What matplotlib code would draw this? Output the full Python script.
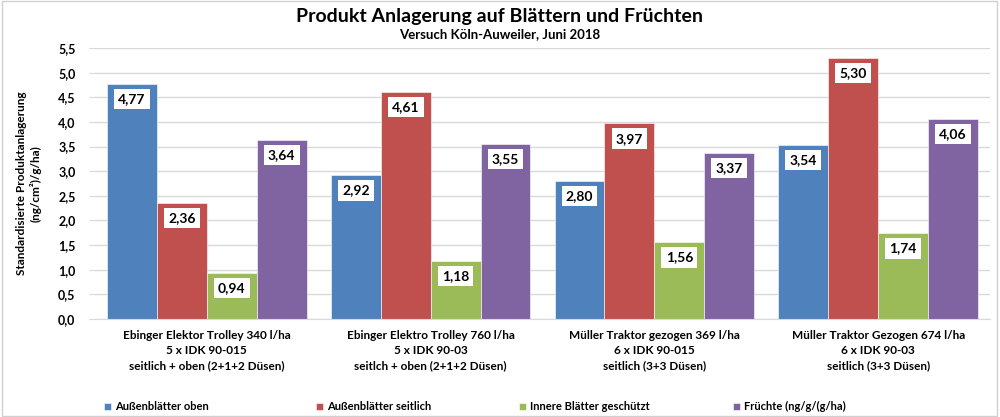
import numpy as np
import matplotlib.pyplot as plt
from matplotlib.patches import Rectangle

plt.rcParams['font.family'] = ['Lato', 'DejaVu Sans']
plt.rcParams['font.weight'] = 'bold'

groups = [
    "Ebinger Elektor Trolley 340 l/ha\n5 x IDK 90-015\nseitlich + oben (2+1+2 Düsen)",
    "Ebinger Elektro Trolley 760 l/ha\n5 x IDK 90-03\nseitlch + oben (2+1+2 Düsen)",
    "Müller Traktor gezogen 369 l/ha\n6 x IDK 90-015\nseitlich (3+3 Düsen)",
    "Müller Traktor Gezogen 674 l/ha\n6 x IDK 90-03\nseitlich (3+3 Düsen)",
]
series_names = ["Außenblätter oben", "Außenblätter seitlich",
                "Innere Blätter geschützt", "Früchte (ng/g/(g/ha)"]
aussen_oben = [4.77, 2.92, 2.80, 3.54]
aussen_seitlich = [2.36, 4.61, 3.97, 5.30]
innere = [0.94, 1.18, 1.56, 1.74]
fruechte = [3.64, 3.55, 3.37, 4.06]
colors = ["#4F81BD", "#C0504D", "#9BBB59", "#8064A2"]

yticks = np.arange(0, 5.51, 0.5)

fig = plt.figure(figsize=(10, 4.17), dpi=100)
fig.patches.append(Rectangle((0.002, 0.003), 0.995, 0.994, transform=fig.transFigure,
                             fill=False, edgecolor="#D0D0D0", linewidth=1))
ax = fig.add_axes([0.095, 0.235, 0.895, 0.65])

x = np.arange(len(groups))
w = 0.223
all_series = [aussen_oben, aussen_seitlich, innere, fruechte]
handles = []
for i, (vals, col, name) in enumerate(zip(all_series, colors, series_names)):
    pos = x + (i - 1.5) * w
    b = ax.bar(pos, vals, w, color=col, edgecolor="white", linewidth=0.4, label=name, zorder=2)
    handles.append(b)
    for px, v in zip(pos, vals):
        ax.annotate(f"{v:.2f}".replace(".", ","), (px, v), xytext=(0, -11),
                    textcoords="offset points", ha="center", va="center",
                    fontsize=10, fontweight="bold", zorder=3,
                    bbox=dict(boxstyle="square,pad=0.3", fc="white", ec="none"))

ax.set_xlim(-0.5, len(groups) - 0.5)
ax.set_ylim(0, 5.5)
ax.set_yticks(yticks)
ax.set_yticklabels([f"{t:.1f}".replace(".", ",") for t in yticks], fontsize=9, fontweight="bold")
ax.set_xticks(x)
ax.set_xticklabels(groups, fontsize=8.5, fontweight="bold", linespacing=1.45)
ax.tick_params(axis="x", length=0, pad=8)
ax.tick_params(axis="y", length=4, color="#D9D9D9", pad=10)
ax.yaxis.grid(True, color="#D9D9D9", linewidth=1, zorder=0)
ax.set_axisbelow(True)
for s in ["top", "right", "left"]:
    ax.spines[s].set_visible(False)
ax.spines["bottom"].set_color("#D9D9D9")

ax.set_ylabel("Standardisierte Produktanlagerung\n(ng/cm²)/g/ha)", fontsize=8.5,
              fontweight="bold", labelpad=12)

fig.text(0.5, 0.96, "Produkt Anlagerung auf Blättern und Früchten", ha="center",
         va="center", fontsize=14, fontweight="bold")
fig.text(0.5, 0.918, "Versuch Köln-Auweiler, Juni 2018", ha="center", va="center",
         fontsize=9.5, fontweight="bold")

# legend entries spaced evenly like the original
leg_x = [0.104, 0.316, 0.519, 0.733]
for h, name, lx in zip(handles, series_names, leg_x):
    fig.legend([h], [name], loc="center left", bbox_to_anchor=(lx, 0.025),
               frameon=False, fontsize=8, handlelength=0.6, handleheight=0.6,
               handletextpad=0.4, borderpad=0, borderaxespad=0)

fig.savefig("out.png", dpi=100)
